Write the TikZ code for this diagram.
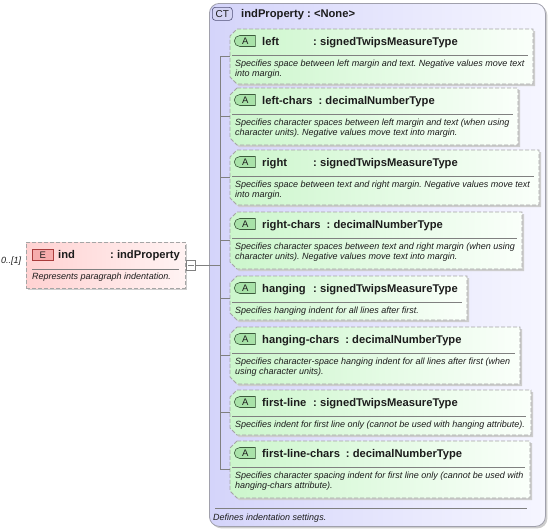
\documentclass[tikz,border=0pt]{standalone}
\usepackage{fontspec}
\setmainfont{Liberation Sans}
\usetikzlibrary{shapes.misc,shadows}
\frenchspacing
\definecolor{ctL}{RGB}{212,212,250}
\definecolor{ctR}{RGB}{246,246,255}
\definecolor{ctBorder}{RGB}{160,160,172}
\definecolor{attrL}{RGB}{204,246,204}
\definecolor{attrR}{RGB}{250,255,250}
\definecolor{dashgray}{RGB}{165,165,165}
\definecolor{shadegray}{RGB}{205,205,205}
\definecolor{elL}{RGB}{255,210,210}
\definecolor{elR}{RGB}{255,243,243}
\definecolor{abadgeF}{RGB}{168,226,168}
\definecolor{abadgeD}{RGB}{60,90,60}
\definecolor{ebadgeF}{RGB}{246,172,172}
\definecolor{ebadgeD}{RGB}{170,60,60}
\definecolor{ctbadgeF}{RGB}{212,212,244}
\definecolor{ctbadgeD}{RGB}{80,80,120}
\definecolor{txt}{RGB}{28,28,28}
\definecolor{conncol}{RGB}{128,128,128}
\newcommand\nmbox[2]{\setbox0\hbox{#2}\ifdim\wd0<#1\hbox to #1{#2\hfil}\else\box0\fi}
\newcommand\chpath[4]{(#1+7,#2) -- (#3,#2) -- (#3,#4) -- (#1+7,#4) -- (#1,#4-7) -- (#1,#2+7) -- cycle}
\tikzset{
  hdr/.style={inner sep=0pt, text=txt, font=\fontsize{11.2}{13}\selectfont\bfseries},
  desc/.style={inner sep=0pt, text=txt, align=left, font=\fontsize{9}{9.8}\selectfont\itshape},
  attrshape/.style={draw=dashgray, dash pattern=on 4pt off 2pt, line width=0.8pt,
    left color=attrL, right color=attrR},
  shadowfill/.style={fill=shadegray},
  anchorbox/.style={inner sep=0pt, anchor=north west},
  abadge/.style={rounded rectangle, rounded rectangle right arc=none, draw=abadgeD,
    fill=abadgeF, line width=0.6pt, minimum width=21pt, minimum height=11pt, inner sep=0pt,
    text=txt, font=\fontsize{9.5}{9.5}\selectfont, anchor=west},
  sepline/.style={draw=conncol, line width=0.6pt},
  conn/.style={draw=conncol, line width=0.7pt},
}
\newcommand\attr[7]{%
  \fill[shadowfill, shift={(2,2)}] \chpath{230}{#2}{#3}{#2+#7};
  \path[attrshape] \chpath{230}{#2}{#3}{#2+#7};
  \node[anchorbox, minimum width={#3-230}, minimum height={#7}] (#1) at (230,#2) {};
  \node[abadge] (#1-b) at (234,#2+12) {A};
  \node[hdr, anchor=base west] (#1-h) at (262,#2+16) {\nmbox{45pt}{#4}\hspace{6pt}: #5};
  \draw[sepline] (232,#2+26) -- (#3-5,#2+26);
  \node[desc, anchor=north west] (#1-d) at (235,#2+31) {#6};
}
\begin{document}
\begin{tikzpicture}[x=1pt,y=-1pt]
\useasboundingbox (0,0) rectangle (551,531);
% complex type container
\node[rounded corners=10pt, draw=ctBorder, line width=0.8pt, left color=ctL, right color=ctR,
  drop shadow={shadow xshift=2pt, shadow yshift=-2pt, fill=shadegray, opacity=1},
  minimum width=336pt, minimum height=523pt, inner sep=0pt, anchor=north west] (ct) at (209,3) {};
\node[rounded corners=3pt, draw=ctbadgeD, fill=ctbadgeF, line width=0.6pt, minimum width=20pt,
  minimum height=13pt, inner sep=0pt, text=txt, font=\fontsize{10}{10}\selectfont, anchor=north west]
  (ct-b) at (212,7) {CT};
\node[hdr, anchor=base west] (ct-h) at (241,17) {indProperty : <None>};
% attributes
\attr{aLeft}{29}{533}{left}{signedTwipsMeasureType}{Specifies space between left margin and text. Negative values move text\\into margin.}{55}
\attr{aLeftChars}{88}{518}{left-chars}{decimalNumberType}{Specifies character spaces between left margin and text (when using\\character units). Negative values move text into margin.}{57}
\attr{aRight}{150}{539}{right}{signedTwipsMeasureType}{Specifies space between text and right margin. Negative values move text\\into margin.}{55}
\attr{aRightChars}{212}{522}{right-chars}{decimalNumberType}{Specifies character spaces between text and right margin (when using\\character units). Negative values move text into margin.}{57}
\attr{aHanging}{276}{467}{hanging}{signedTwipsMeasureType}{Specifies hanging indent for all lines after first.}{44}
\attr{aHangingChars}{327}{520}{hanging-chars}{decimalNumberType}{Specifies character-space hanging indent for all lines after first (when\\using character units).}{57}
\attr{aFirstLine}{390}{531}{first-line}{signedTwipsMeasureType}{Specifies indent for first line only (cannot be used with hanging attribute).}{45}
\attr{aFirstLineChars}{441}{530}{first-line-chars}{decimalNumberType}{Specifies character spacing indent for first line only (cannot be used with\\hanging-chars attribute).}{57}
% footer
\draw[sepline] (215,508) -- (527,508);
\node[desc, anchor=base west] (ct-d) at (213,520) {Defines indentation settings.};
% element
\node[draw=dashgray, dash pattern=on 4pt off 2pt, line width=0.8pt, left color=elL, right color=elR,
  drop shadow={shadow xshift=2pt, shadow yshift=-2pt, fill=shadegray, opacity=1},
  minimum width=159pt, minimum height=46pt, inner sep=0pt, anchor=north west] (el) at (26,242) {};
\node[draw=ebadgeD, fill=ebadgeF, line width=0.6pt, minimum width=21pt, minimum height=11pt,
  inner sep=0pt, text=txt, font=\fontsize{9.5}{9.5}\selectfont, anchor=north west] (el-b) at (32,249) {E};
\node[hdr, anchor=base west] (el-h) at (58,258) {\nmbox{46pt}{ind}\hspace{6pt}: indProperty};
\draw[sepline] (32,269) -- (179,269);
\node[desc, anchor=base west] (el-d) at (32,279) {Represents paragraph indentation.};
\node[desc, anchor=base west] (card) at (1,263) {0..[1]};
% toggle and connectors
\node[draw=conncol, fill=white, line width=0.6pt, minimum width=9pt, minimum height=10pt,
  inner sep=0pt] (tog) at (191,265) {};
\draw[conn] ([xshift=2pt]tog.west) -- ([xshift=-2pt]tog.east);
\coordinate (hub) at (220,265);
\draw[conn] (tog.east) -- (hub);
\draw[conn] (hub |- aLeft.west) -- (hub |- aFirstLineChars.west);
\foreach \b in {aLeft,aLeftChars,aRight,aRightChars,aHanging,aHangingChars,aFirstLine,aFirstLineChars}
  \draw[conn] (hub |- \b.west) -- (\b.west);
\end{tikzpicture}
\end{document}
